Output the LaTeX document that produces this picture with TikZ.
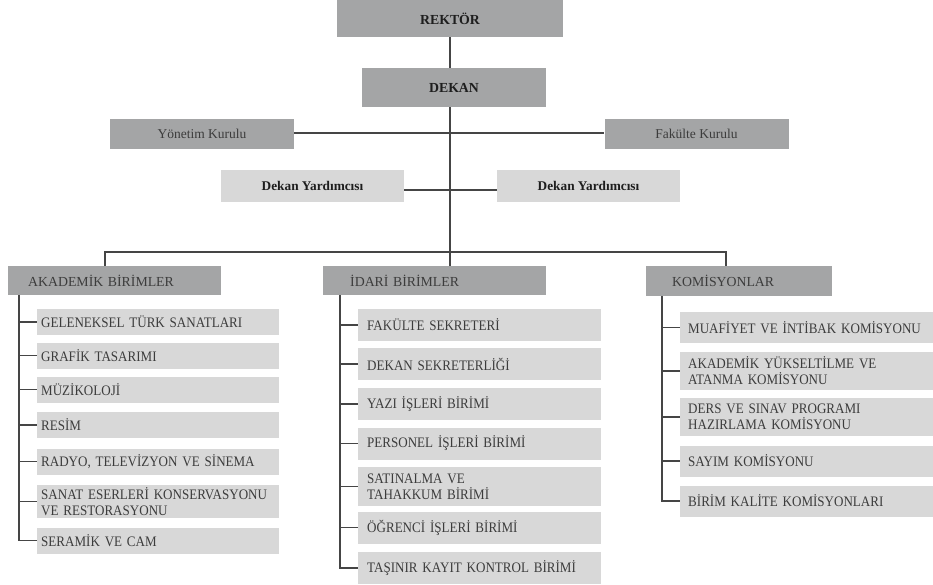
\documentclass[tikz,border=0pt]{standalone}
\usepackage{fontspec}
\setmainfont{Liberation Serif}
\newfontfamily\itemfont[FakeStretch=0.9]{Liberation Serif}
\definecolor{boxdark}{HTML}{A4A5A6}
\definecolor{boxlight}{HTML}{D8D8D8}
\definecolor{inkdark}{HTML}{1E1E1E}
\definecolor{inkgray}{HTML}{3C3C3C}
\definecolor{linegray}{HTML}{454545}
\tikzset{
  topbox/.style={fill=boxdark, text=inkdark, inner sep=0, font=\fontsize{13.8}{16}\selectfont\bfseries},
  councilbox/.style={fill=boxdark, text=inkgray, inner sep=0, minimum width=184, minimum height=30, font=\fontsize{13.5}{16}\selectfont},
  deputybox/.style={fill=boxlight, text=inkdark, inner sep=0, minimum width=183, minimum height=32, font=\fontsize{13.3}{16}\selectfont\bfseries},
  groupbox/.style={fill=boxdark, text=inkgray, anchor=west, align=left, inner ysep=0, minimum height=29, font=\fontsize{13.8}{16}\selectfont},
  itembox/.style={fill=boxlight, text=inkgray, anchor=west, align=left, inner ysep=0, font=\itemfont\fontsize{14.5}{16}\selectfont}
}
\begin{document}
\begin{tikzpicture}[x=1pt, y=-1pt]
        \useasboundingbox (0,0) rectangle (933,585);
        % top of the chart
        \node [topbox, minimum width=226, minimum height=37] (rektor) at (450,18.5) {REKTÖR};
        \node [topbox, minimum width=184, minimum height=39] (dekan) at (454,87.5) {DEKAN};
        \node [councilbox] (yonetim) at (202,134) {Yönetim Kurulu};
        \node [councilbox] (fakulte) at (696.5,134) {Fakülte Kurulu};
        \node [deputybox] (yardimci1) at (312.5,186) {Dekan Yardımcısı};
        \node [deputybox] (yardimci2) at (588.5,186) {Dekan Yardımcısı};
        % the three groups
        \node [groupbox, inner xsep=20, text width=173] (akademik) at (8,280.5) {AKADEMİK BİRİMLER};
        \node [groupbox, inner xsep=27, text width=169] (idari) at (323,280.5) {İDARİ BİRİMLER};
        \node [groupbox, inner xsep=26, text width=134, minimum height=30] (komisyon) at (646,281) {KOMİSYONLAR};
        \coordinate (spine) at (450,252);
        \coordinate (busL) at (105,252);
        \coordinate (busR) at (726,252);
        \coordinate (trunkA) at (19,295);
        \coordinate (trunkI) at (340,295);
        \coordinate (trunkK) at (662,296);
        \begin{scope}[every node/.style={itembox, inner xsep=4, text width=234, minimum height=26}]
            \node (a1) at (37,322) {GELENEKSEL TÜRK SANATLARI};
            \node (a2) at (37,355.5) {GRAFİK TASARIMI};
            \node (a3) at (37,389.5) {MÜZİKOLOJİ};
            \node (a4) at (37,425) {RESİM};
            \node (a5) at (37,461.5) {RADYO, TELEVİZYON VE SİNEMA};
            \node [minimum height=33] (a6) at (37,501.5) {SANAT ESERLERİ KONSERVASYONU\\VE RESTORASYONU};
            \node (a7) at (37,540.5) {SERAMİK VE CAM};
        \end{scope}
        \begin{scope}[every node/.style={itembox, inner xsep=9, text width=225, minimum height=32}]
            \node (i1) at (358,325) {FAKÜLTE SEKRETERİ};
            \node (i2) at (358,364) {DEKAN SEKRETERLİĞİ};
            \node (i3) at (358,404) {YAZI İŞLERİ BİRİMİ};
            \node (i4) at (358,443.5) {PERSONEL İŞLERİ BİRİMİ};
            \node [minimum height=39] (i5) at (358,486.5) {SATINALMA VE\\TAHAKKUM BİRİMİ};
            \node (i6) at (358,527.5) {ÖĞRENCİ İŞLERİ BİRİMİ};
            \node (i7) at (358,568) {TAŞINIR KAYIT KONTROL BİRİMİ};
        \end{scope}
        \begin{scope}[every node/.style={itembox, inner xsep=8, text width=237, minimum height=31}]
            \node (k1) at (680,327.5) {MUAFİYET VE İNTİBAK KOMİSYONU};
            \node [minimum height=38] (k2) at (680,371) {AKADEMİK YÜKSELTİLME VE\\ATANMA KOMİSYONU};
            \node [minimum height=38] (k3) at (680,417) {DERS VE SINAV PROGRAMI\\HAZIRLAMA KOMİSYONU};
            \node (k4) at (680,461) {SAYIM KOMİSYONU};
            \node (k5) at (680,501) {BİRİM KALİTE KOMİSYONLARI};
        \end{scope}
        % connectors
        \begin{scope}[draw=linegray, line width=1.2pt]
            \draw (rektor.south -| spine) -- (dekan.north -| spine);
            \draw (dekan.south -| spine) -- (spine);
            \draw ([yshift=1pt]yonetim.east) -- ([yshift=1pt]fakulte.west);
            \draw ([yshift=-4pt]yardimci1.east) -- ([yshift=-4pt]yardimci2.west);
            \draw (akademik.north -| busL) |- (busR) -- (komisyon.north -| busR);
            \draw (spine) -- (idari.north -| spine);
            \draw (trunkA) |- (a1.west);
            \draw (trunkA) |- (a2.west);
            \draw (trunkA) |- (a3.west);
            \draw (trunkA) |- (a4.west);
            \draw (trunkA) |- (a5.west);
            \draw (trunkA) |- (a6.west);
            \draw (trunkA) |- (a7.west);
            \draw (trunkI) |- (i1.west);
            \draw (trunkI) |- (i2.west);
            \draw (trunkI) |- (i3.west);
            \draw (trunkI) |- (i4.west);
            \draw (trunkI) |- (i5.west);
            \draw (trunkI) |- (i6.west);
            \draw (trunkI) |- (i7.west);
            \draw (trunkK) |- (k1.west);
            \draw (trunkK) |- (k2.west);
            \draw (trunkK) |- (k3.west);
            \draw (trunkK) |- (k4.west);
            \draw (trunkK) |- (k5.west);
        \end{scope}
\end{tikzpicture}
\end{document}
